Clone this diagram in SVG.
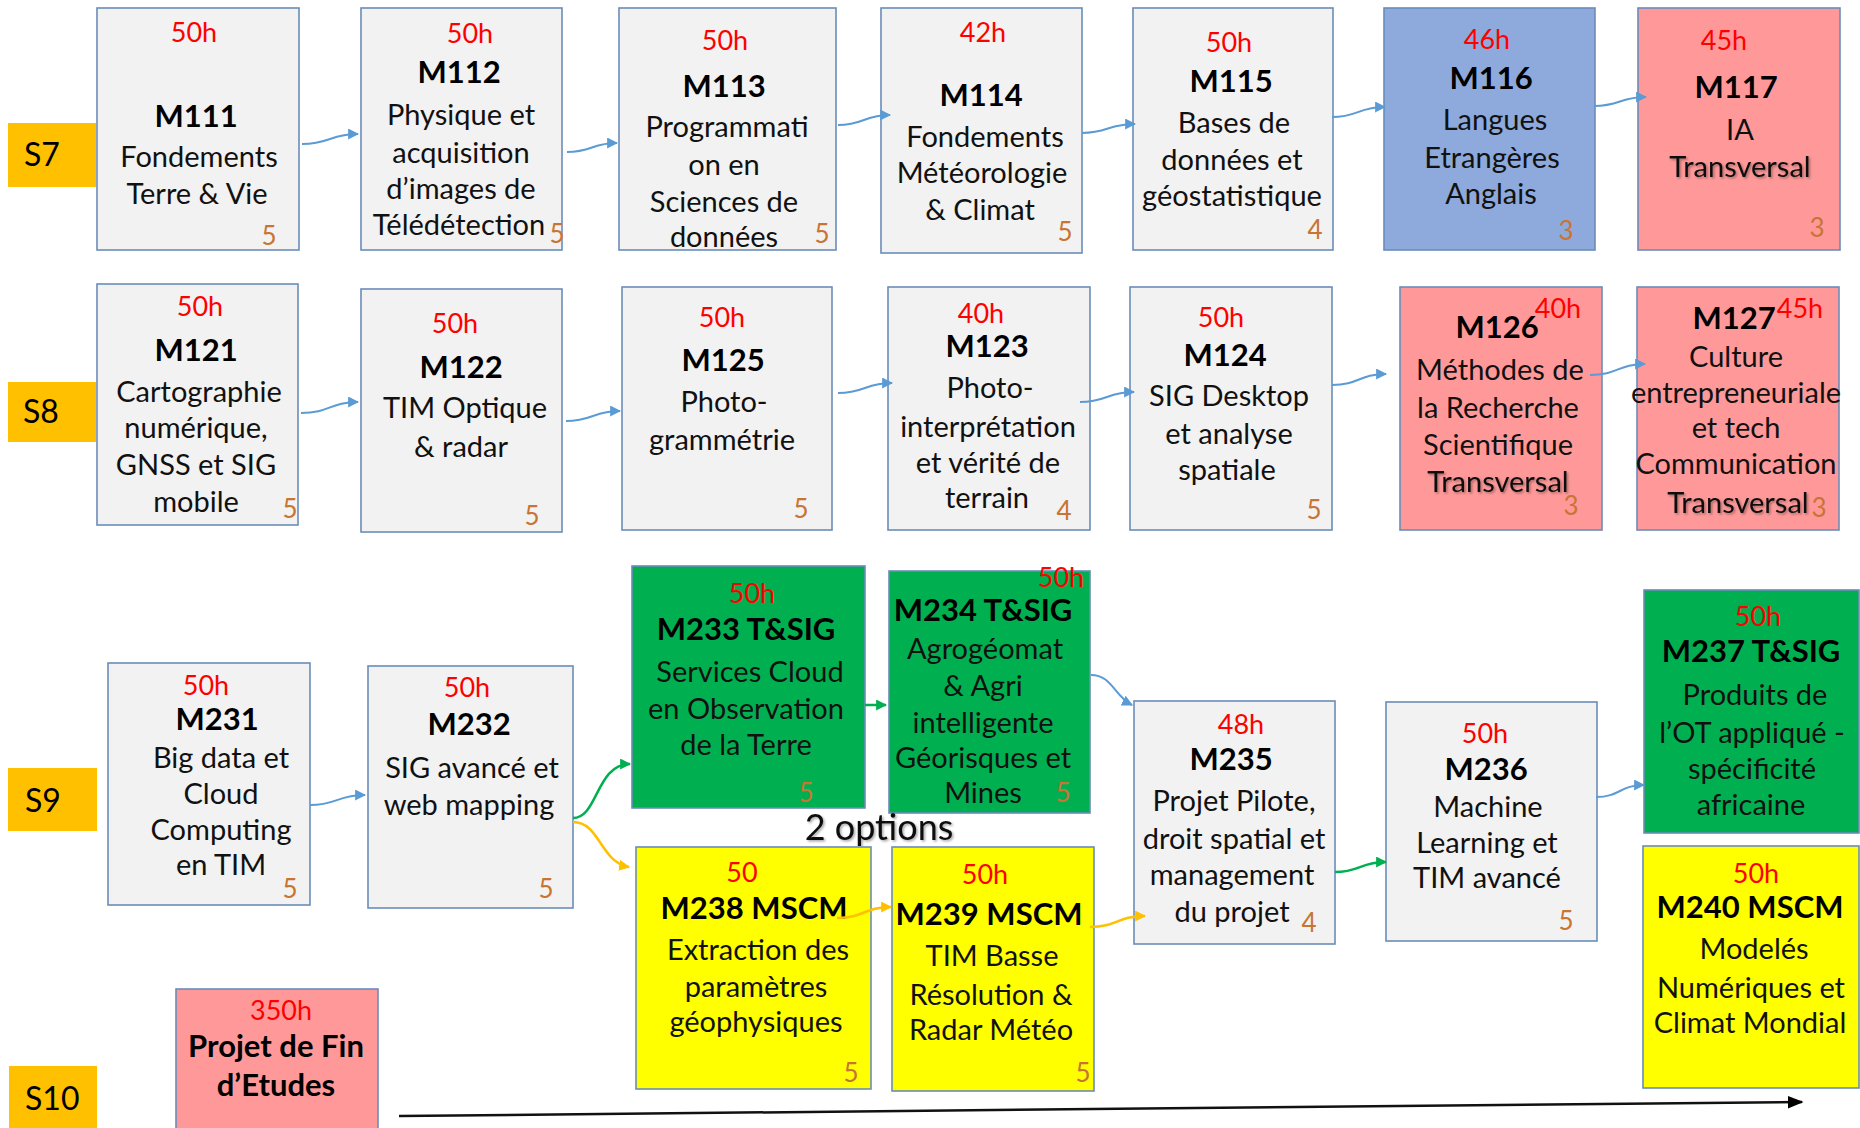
<svg xmlns="http://www.w3.org/2000/svg" width="1860" height="1128" viewBox="0 0 1860 1128">
<defs>
  <marker id="ab" viewBox="0 0 10 10" refX="9" refY="5" markerWidth="11" markerHeight="11" markerUnits="userSpaceOnUse" orient="auto"><path d="M0,0 L10,5 L0,10 z" fill="#5B9BD5"/></marker>
  <marker id="ag" viewBox="0 0 10 10" refX="9" refY="5" markerWidth="11" markerHeight="11" markerUnits="userSpaceOnUse" orient="auto"><path d="M0,0 L10,5 L0,10 z" fill="#00B050"/></marker>
  <marker id="ao" viewBox="0 0 10 10" refX="9" refY="5" markerWidth="11" markerHeight="11" markerUnits="userSpaceOnUse" orient="auto"><path d="M0,0 L10,5 L0,10 z" fill="#FFC000"/></marker>
  <marker id="ak" viewBox="0 0 10 10" refX="9" refY="5" markerWidth="16" markerHeight="16" markerUnits="userSpaceOnUse" orient="auto"><path d="M0,1 L10,5 L0,9 z" fill="#000"/></marker>
  <filter id="sh" x="-10%" y="-20%" width="120%" height="150%"><feDropShadow dx="1.5" dy="1.5" stdDeviation="1" flood-color="#000" flood-opacity="0.35"/></filter>
</defs>
<style>
  text { font-family: Lato, "Liberation Sans", sans-serif; }
  .box { fill: #F2F2F2; stroke: #6A8CB8; stroke-width: 1.6; }
  .blu { fill: #8EA9DB; stroke: #6A8CB8; stroke-width: 1.6; }
  .pnk { fill: #FF9999; stroke: #6A8CB8; stroke-width: 1.6; }
  .grn { fill: #00B050; stroke: #6A8CB8; stroke-width: 1.6; }
  .yel { fill: #FFFF00; stroke: #6A8CB8; stroke-width: 1.6; }
  .sem { fill: #FFC000; }
  .semt { font-size: 32px; fill: #000; }
  .hrs { font-size: 27px; fill: #FF0000; text-anchor: middle; }
  .ttl { font-size: 31px; font-weight: bold; fill: #000; text-anchor: middle; }
  .txt { font-size: 29px; fill: #111; text-anchor: middle; }
  .ect { font-size: 26px; fill: #C87533; text-anchor: middle; }
  .trv { filter: url(#sh); }
  .cb { fill: none; stroke: #5B9BD5; stroke-width: 2; marker-end: url(#ab); }
  .cg { fill: none; stroke: #00B050; stroke-width: 2.5; marker-end: url(#ag); }
  .co { fill: none; stroke: #FFC000; stroke-width: 2.5; marker-end: url(#ao); }
</style>
<rect width="1860" height="1128" fill="#FFFFFF"/>

<!-- Semester labels -->
<g id="S7"><rect class="sem" x="8" y="123" width="88" height="64"/><text class="semt" x="24" y="166">S7</text></g>
<g id="S8"><rect class="sem" x="8" y="382" width="88" height="60"/><text class="semt" x="23" y="423">S8</text></g>
<g id="S9"><rect class="sem" x="8" y="768" width="89" height="63"/><text class="semt" x="25" y="812">S9</text></g>
<g id="S10"><rect class="sem" x="9" y="1066" width="88" height="64"/><text class="semt" x="25" y="1110">S10</text></g>

<!-- Row S7 -->
<g id="M111"><rect class="box" x="97" y="8" width="202" height="242"/>
  <text class="hrs" x="194" y="42">50h</text>
  <text class="ttl" x="196" y="127">M111</text>
  <text class="txt" x="199" y="167">Fondements</text>
  <text class="txt" x="197" y="204">Terre &amp; Vie</text>
  <text class="ect" x="269" y="245">5</text></g>
<g id="M112"><rect class="box" x="361" y="8" width="201" height="242"/>
  <text class="hrs" x="470" y="43">50h</text>
  <text class="ttl" x="459" y="83">M112</text>
  <text class="txt" x="461" y="125">Physique et</text>
  <text class="txt" x="461" y="163">acquisition</text>
  <text class="txt" x="461" y="199">d’images de</text>
  <text class="txt" x="459" y="235">Télédétection</text>
  <text class="ect" x="557" y="243">5</text></g>
<g id="M113"><rect class="box" x="619" y="8" width="217" height="242"/>
  <text class="hrs" x="725" y="50">50h</text>
  <text class="ttl" x="724" y="97">M113</text>
  <text class="txt" x="727" y="137">Programmati</text>
  <text class="txt" x="724" y="175">on en</text>
  <text class="txt" x="724" y="212">Sciences de</text>
  <text class="txt" x="724" y="247">données</text>
  <text class="ect" x="822" y="243">5</text></g>
<g id="M114"><rect class="box" x="881" y="8" width="201" height="245"/>
  <text class="hrs" x="983" y="42">42h</text>
  <text class="ttl" x="981" y="106">M114</text>
  <text class="txt" x="985" y="147">Fondements</text>
  <text class="txt" x="982" y="183">Météorologie</text>
  <text class="txt" x="980" y="220">&amp; Climat</text>
  <text class="ect" x="1065" y="241">5</text></g>
<g id="M115"><rect class="box" x="1133" y="8" width="200" height="242"/>
  <text class="hrs" x="1229" y="52">50h</text>
  <text class="ttl" x="1231" y="92">M115</text>
  <text class="txt" x="1234" y="133">Bases de</text>
  <text class="txt" x="1232" y="170">données et</text>
  <text class="txt" x="1232" y="206">géostatistique</text>
  <text class="ect" x="1315" y="239">4</text></g>
<g id="M116"><rect class="blu" x="1384" y="8" width="211" height="242"/>
  <text class="hrs" x="1487" y="49">46h</text>
  <text class="ttl" x="1491" y="89">M116</text>
  <text class="txt" x="1495" y="130">Langues</text>
  <text class="txt" x="1492" y="168">Etrangères</text>
  <text class="txt" x="1491" y="204">Anglais</text>
  <text class="ect" x="1566" y="240">3</text></g>
<g id="M117"><rect class="pnk" x="1638" y="8" width="202" height="242"/>
  <text class="hrs" x="1724" y="50">45h</text>
  <text class="ttl" x="1736" y="98">M117</text>
  <text class="txt" x="1740" y="140">IA</text>
  <text class="txt trv" x="1740" y="177">Transversal</text>
  <text class="ect" x="1817" y="237">3</text></g>

<!-- Row S8 -->
<g id="M121"><rect class="box" x="97" y="284" width="201" height="241"/>
  <text class="hrs" x="200" y="316">50h</text>
  <text class="ttl" x="196" y="361">M121</text>
  <text class="txt" x="199" y="402">Cartographie</text>
  <text class="txt" x="196" y="438">numérique,</text>
  <text class="txt" x="196" y="475">GNSS et SIG</text>
  <text class="txt" x="196" y="512">mobile</text>
  <text class="ect" x="290" y="518">5</text></g>
<g id="M122"><rect class="box" x="361" y="289" width="201" height="243"/>
  <text class="hrs" x="455" y="333">50h</text>
  <text class="ttl" x="461" y="378">M122</text>
  <text class="txt" x="465" y="418">TIM Optique</text>
  <text class="txt" x="461" y="457">&amp; radar</text>
  <text class="ect" x="532" y="525">5</text></g>
<g id="M125"><rect class="box" x="622" y="287" width="210" height="243"/>
  <text class="hrs" x="722" y="327">50h</text>
  <text class="ttl" x="723" y="371">M125</text>
  <text class="txt" x="724" y="412">Photo-</text>
  <text class="txt" x="722" y="450">grammétrie</text>
  <text class="ect" x="801" y="518">5</text></g>
<g id="M123"><rect class="box" x="888" y="287" width="202" height="243"/>
  <text class="hrs" x="981" y="323">40h</text>
  <text class="ttl" x="987" y="357">M123</text>
  <text class="txt" x="990" y="398">Photo-</text>
  <text class="txt" x="988" y="437">interprétation</text>
  <text class="txt" x="988" y="473">et vérité de</text>
  <text class="txt" x="987" y="508">terrain</text>
  <text class="ect" x="1064" y="520">4</text></g>
<g id="M124"><rect class="box" x="1130" y="287" width="202" height="243"/>
  <text class="hrs" x="1221" y="327">50h</text>
  <text class="ttl" x="1225" y="366">M124</text>
  <text class="txt" x="1229" y="406">SIG Desktop</text>
  <text class="txt" x="1229" y="444">et analyse</text>
  <text class="txt" x="1227" y="480">spatiale</text>
  <text class="ect" x="1314" y="519">5</text></g>
<g id="M126"><rect class="pnk" x="1400" y="287" width="202" height="243"/>
  <text class="ttl" x="1497" y="338">M126</text>
  <text class="hrs" x="1558" y="318">40h</text>
  <text class="txt" x="1500" y="380">Méthodes de</text>
  <text class="txt" x="1498" y="418">la Recherche</text>
  <text class="txt" x="1498" y="455">Scientifique</text>
  <text class="txt trv" x="1498" y="492">Transversal</text>
  <text class="ect" x="1571" y="515">3</text></g>
<g id="M127"><rect class="pnk" x="1637" y="287" width="202" height="243"/>
  <text class="ttl" x="1734" y="329">M127</text>
  <text class="hrs" x="1800" y="318">45h</text>
  <text class="txt" x="1736" y="367">Culture</text>
  <text class="txt" x="1736" y="403">entrepreneuriale</text>
  <text class="txt" x="1736" y="438">et tech</text>
  <text class="txt" x="1736" y="474">Communication</text>
  <text class="txt trv" x="1738" y="513">Transversal</text>
  <text class="ect" x="1819" y="517">3</text></g>

<!-- Row S9 -->
<g id="M231"><rect class="box" x="108" y="663" width="202" height="242"/>
  <text class="hrs" x="206" y="695">50h</text>
  <text class="ttl" x="217" y="730">M231</text>
  <text class="txt" x="221" y="768">Big data et</text>
  <text class="txt" x="221" y="804">Cloud</text>
  <text class="txt" x="221" y="840">Computing</text>
  <text class="txt" x="221" y="875">en TIM</text>
  <text class="ect" x="290" y="898">5</text></g>
<g id="M232"><rect class="box" x="368" y="666" width="205" height="242"/>
  <text class="hrs" x="467" y="697">50h</text>
  <text class="ttl" x="469" y="735">M232</text>
  <text class="txt" x="472" y="778">SIG avancé et</text>
  <text class="txt" x="469" y="815">web mapping</text>
  <text class="ect" x="546" y="898">5</text></g>
<g id="M233"><rect class="grn" x="632" y="566" width="233" height="242"/>
  <text class="hrs" x="752" y="603">50h</text>
  <text class="ttl" x="746" y="640">M233 T&amp;SIG</text>
  <text class="txt" x="750" y="682">Services Cloud</text>
  <text class="txt" x="746" y="719">en Observation</text>
  <text class="txt" x="746" y="755">de la Terre</text>
  <text class="ect" x="806" y="802">5</text></g>
<g id="M234"><rect class="grn" x="889" y="571" width="201" height="242"/>
  <text class="hrs" x="1061" y="587">50h</text>
  <text class="ttl" x="983" y="621">M234 T&amp;SIG</text>
  <text class="txt" x="985" y="659">Agrogéomat</text>
  <text class="txt" x="983" y="696">&amp; Agri</text>
  <text class="txt" x="983" y="733">intelligente</text>
  <text class="txt" x="983" y="768">Géorisques et</text>
  <text class="txt" x="983" y="803">Mines</text>
  <text class="ect" x="1063" y="802">5</text></g>
<g id="options"><text x="879" y="840" font-size="36" fill="#111" text-anchor="middle" filter="url(#sh)">2 options</text></g>
<g id="M238"><rect class="yel" x="636" y="847" width="235" height="242"/>
  <text class="hrs" x="742" y="882">50</text>
  <text class="ttl" x="754" y="919">M238 MSCM</text>
  <text class="txt" x="758" y="960">Extraction des</text>
  <text class="txt" x="756" y="997">paramètres</text>
  <text class="txt" x="756" y="1032">géophysiques</text>
  <text class="ect" x="851" y="1082">5</text></g>
<g id="M239"><rect class="yel" x="892" y="847" width="202" height="244"/>
  <text class="hrs" x="985" y="884">50h</text>
  <text class="ttl" x="989" y="925">M239 MSCM</text>
  <text class="txt" x="992" y="966">TIM Basse</text>
  <text class="txt" x="991" y="1005">Résolution &amp;</text>
  <text class="txt" x="991" y="1040">Radar Météo</text>
  <text class="ect" x="1083" y="1082">5</text></g>
<g id="M235"><rect class="box" x="1134" y="701" width="201" height="243"/>
  <text class="hrs" x="1241" y="734">48h</text>
  <text class="ttl" x="1231" y="770">M235</text>
  <text class="txt" x="1234" y="811">Projet Pilote,</text>
  <text class="txt" x="1234" y="849">droit spatial et</text>
  <text class="txt" x="1232" y="885">management</text>
  <text class="txt" x="1232" y="922">du projet</text>
  <text class="ect" x="1309" y="932">4</text></g>
<g id="M236"><rect class="box" x="1386" y="702" width="211" height="239"/>
  <text class="hrs" x="1485" y="743">50h</text>
  <text class="ttl" x="1486" y="780" font-size="28">M236</text>
  <text class="txt" x="1488" y="817">Machine</text>
  <text class="txt" x="1487" y="853">Learning et</text>
  <text class="txt" x="1487" y="888">TIM avancé</text>
  <text class="ect" x="1566" y="930">5</text></g>
<g id="M237"><rect class="grn" x="1644" y="590" width="215" height="243"/>
  <text class="hrs" x="1758" y="626">50h</text>
  <text class="ttl" x="1751" y="662">M237 T&amp;SIG</text>
  <text class="txt" x="1755" y="705">Produits de</text>
  <text class="txt" x="1752" y="743">l’OT appliqué -</text>
  <text class="txt" x="1752" y="779">spécificité</text>
  <text class="txt" x="1751" y="815">africaine</text></g>
<g id="M240"><rect class="yel" x="1643" y="846" width="216" height="242"/>
  <text class="hrs" x="1756" y="883">50h</text>
  <text class="ttl" x="1750" y="918">M240 MSCM</text>
  <text class="txt" x="1754" y="959">Modelés</text>
  <text class="txt" x="1751" y="998">Numériques et</text>
  <text class="txt" x="1750" y="1033">Climat Mondial</text></g>

<!-- S10 -->
<g id="PFE"><rect class="pnk" x="176" y="989" width="202" height="150"/>
  <text class="hrs" x="281" y="1020">350h</text>
  <text class="ttl" x="276" y="1057">Projet de Fin</text>
  <text class="ttl" x="276" y="1096">d’Etudes</text></g>

<!-- Connectors -->
<g id="connectors">
  <path class="cb" d="M302,144 C330,144 330,134 358,134"/>
  <path class="cb" d="M567,152 C592,152 592,143 617,143"/>
  <path class="cb" d="M838,125 C864,125 864,115 890,115"/>
  <path class="cb" d="M1082,133 C1108,133 1108,124 1135,124"/>
  <path class="cb" d="M1332,117 C1358,117 1358,107 1385,107"/>
  <path class="cb" d="M1594,106 C1620,106 1620,97 1646,97"/>

  <path class="cb" d="M301,413 C330,413 330,402 358,402"/>
  <path class="cb" d="M566,421 C593,421 593,411 620,411"/>
  <path class="cb" d="M838,393 C865,393 865,383 892,383"/>
  <path class="cb" d="M1080,402 C1107,402 1107,392 1134,392"/>
  <path class="cb" d="M1332,385 C1359,385 1359,374 1386,374"/>
  <path class="cb" d="M1590,375 C1618,375 1618,364 1645,364"/>

  <path class="cb" d="M310,805 C337,805 337,795 365,795"/>
  <path class="cg" d="M573,818 C598,818 596,764 630,764"/>
  <path class="co" d="M573,822 C600,822 600,862 629,867"/>
  <path class="cg" d="M865,705 L886,705"/>
  <path class="cb" d="M1091,675 C1112,675 1114,696 1132,705"/>
  <path class="co" d="M837,918 C864,918 864,907 891,907"/>
  <path class="co" d="M1090,927 C1117,927 1117,916 1145,916"/>
  <path class="cg" d="M1335,872 C1360,872 1360,862 1386,862"/>
  <path class="cb" d="M1596,797 C1620,797 1620,785 1644,785"/>

  <path d="M399,1116 L1802,1102" fill="none" stroke="#111" stroke-width="2.5" marker-end="url(#ak)"/>
</g>
</svg>
